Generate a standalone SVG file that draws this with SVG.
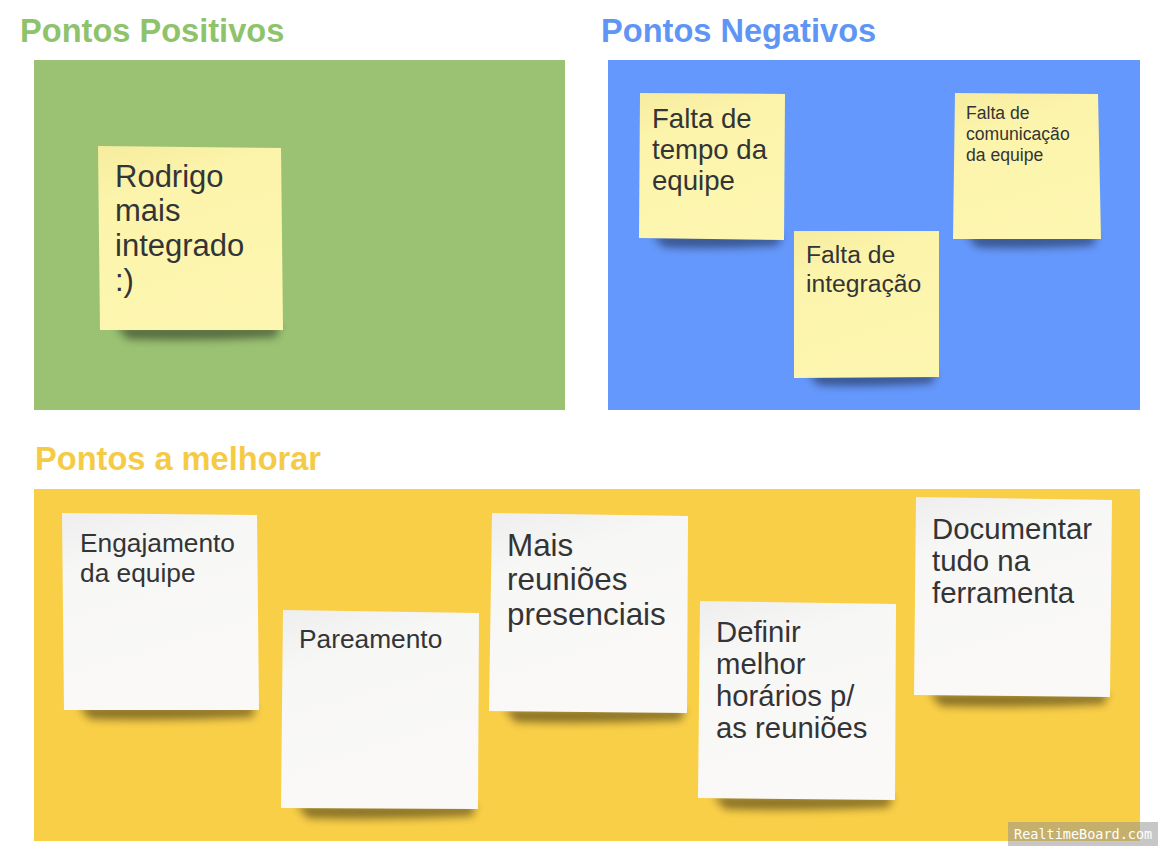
<svg xmlns="http://www.w3.org/2000/svg" width="1167" height="856" viewBox="0 0 1167 856">
<style>
.title{font-family:"Liberation Sans",Arial,sans-serif;font-weight:bold;font-size:32.6px}
.t{font-family:"Liberation Sans",Arial,sans-serif;fill:#333435}
.sh{fill:#000;opacity:.45;filter:url(#blur)}
.wm{font-family:"DejaVu Sans Mono",monospace;font-size:13.5px;fill:#fff}
</style>
<defs>
<filter id="blur" x="-20%" y="-100%" width="140%" height="300%"><feGaussianBlur stdDeviation="4"/></filter>
<linearGradient id="gy" x1="0" y1="0" x2="0.3" y2="1">
<stop offset="0" stop-color="#f6ec9f"/><stop offset="0.3" stop-color="#fcf4ab"/><stop offset="1" stop-color="#fdf6b0"/>
</linearGradient>
<linearGradient id="gw" x1="0" y1="0" x2="0.3" y2="1">
<stop offset="0" stop-color="#eeeeee"/><stop offset="0.3" stop-color="#f7f7f6"/><stop offset="1" stop-color="#faf9f8"/>
</linearGradient>
</defs>
<rect width="1167" height="856" fill="#ffffff"/>

<g id="panel-positivos">
<text class="title" x="20" y="42" fill="#8fc36b">Pontos Positivos</text>
<rect x="34" y="60" width="531" height="350" fill="#9bc273"/>
</g>
<g id="panel-negativos">
<text class="title" x="601" y="42" fill="#5f95f5">Pontos Negativos</text>
<rect x="608" y="60" width="532" height="350" fill="#6598fc"/>
</g>
<g id="panel-melhorar">
<text class="title" x="35" y="470" fill="#f5cb45">Pontos a melhorar</text>
<rect x="34" y="489" width="1106" height="352" fill="#f9cf48"/>
</g>

<g id="note-rodrigo">
<path class="sh" d="M115,326 L280,326 L276,337 Q200,341 128,339 Z"/>
<polygon points="98,146 281,148 283,330 100,330" fill="url(#gy)"/>
<text class="t" font-size="31" x="115" y="187">Rodrigo</text>
<text class="t" font-size="31" x="115" y="221">mais</text>
<text class="t" font-size="31" x="115" y="256">integrado</text>
<text class="t" font-size="31" x="115" y="291">:)</text>
</g>

<g id="note-tempo">
<path class="sh" d="M652,235 L782,235 L778,245 Q720,249 664,247 Z"/>
<polygon points="640,93 785,94 784,240 639,238" fill="url(#gy)"/>
<text class="t" font-size="27.6" x="652" y="128">Falta de</text>
<text class="t" font-size="27.6" x="652" y="159">tempo da</text>
<text class="t" font-size="27.6" x="652" y="190">equipe</text>
</g>

<g id="note-integracao">
<path class="sh" d="M807,373 L936,373 L932,383 Q870,387 819,385 Z"/>
<polygon points="794,231 939,231 939,377 794,378" fill="url(#gy)"/>
<text class="t" font-size="24.7" x="806" y="263">Falta de</text>
<text class="t" font-size="24.7" x="806" y="292">integração</text>
</g>

<g id="note-comunicacao">
<path class="sh" d="M966,235 L1097,235 L1093,245 Q1030,249 977,247 Z"/>
<polygon points="955,93 1098,94 1101,239 953,239" fill="url(#gy)"/>
<text class="t" font-size="17.6" x="966" y="119">Falta de</text>
<text class="t" font-size="17.6" x="966" y="140">comunicação</text>
<text class="t" font-size="17.6" x="966" y="161">da equipe</text>
</g>

<g id="note-engajamento">
<path class="sh" d="M78,706 L256,706 L252,717 Q170,721 90,719 Z"/>
<polygon points="62,513 257,515 259,710 64,710" fill="url(#gw)"/>
<text class="t" font-size="26.3" x="80" y="552">Engajamento</text>
<text class="t" font-size="26.3" x="80" y="582">da equipe</text>
</g>

<g id="note-pareamento">
<path class="sh" d="M296,805 L476,805 L472,816 Q390,820 308,818 Z"/>
<polygon points="283,610 479,613 478,809 281,808" fill="url(#gw)"/>
<text class="t" font-size="26.3" x="299" y="648">Pareamento</text>
</g>

<g id="note-reunioes">
<path class="sh" d="M504,709 L685,709 L681,720 Q600,724 516,722 Z"/>
<polygon points="492,513 688,516 687,713 489,711" fill="url(#gw)"/>
<text class="t" font-size="31.4" x="507" y="556">Mais</text>
<text class="t" font-size="31.4" x="507" y="590">reuniões</text>
<text class="t" font-size="31.4" x="507" y="625">presenciais</text>
</g>

<g id="note-horarios">
<path class="sh" d="M713,796 L893,796 L889,807 Q810,811 725,809 Z"/>
<polygon points="700,601 896,604 895,800 698,798" fill="url(#gw)"/>
<text class="t" font-size="29.3" x="716" y="642">Definir</text>
<text class="t" font-size="29.3" x="716" y="674">melhor</text>
<text class="t" font-size="29.3" x="716" y="706">horários p/</text>
<text class="t" font-size="29.3" x="716" y="738">as reuniões</text>
</g>

<g id="note-documentar">
<path class="sh" d="M929,693 L1108,693 L1104,704 Q1025,708 941,706 Z"/>
<polygon points="916,497 1112,500 1110,697 914,695" fill="url(#gw)"/>
<text class="t" font-size="29.4" x="932" y="539">Documentar</text>
<text class="t" font-size="29.4" x="932" y="571">tudo na</text>
<text class="t" font-size="29.4" x="932" y="603">ferramenta</text>
</g>

<g id="watermark">
<rect x="1008" y="822" width="150" height="24" fill="#8f8f8f" opacity="0.5"/>
<text class="wm" x="1014" y="839">RealtimeBoard.com</text>
</g>
</svg>
